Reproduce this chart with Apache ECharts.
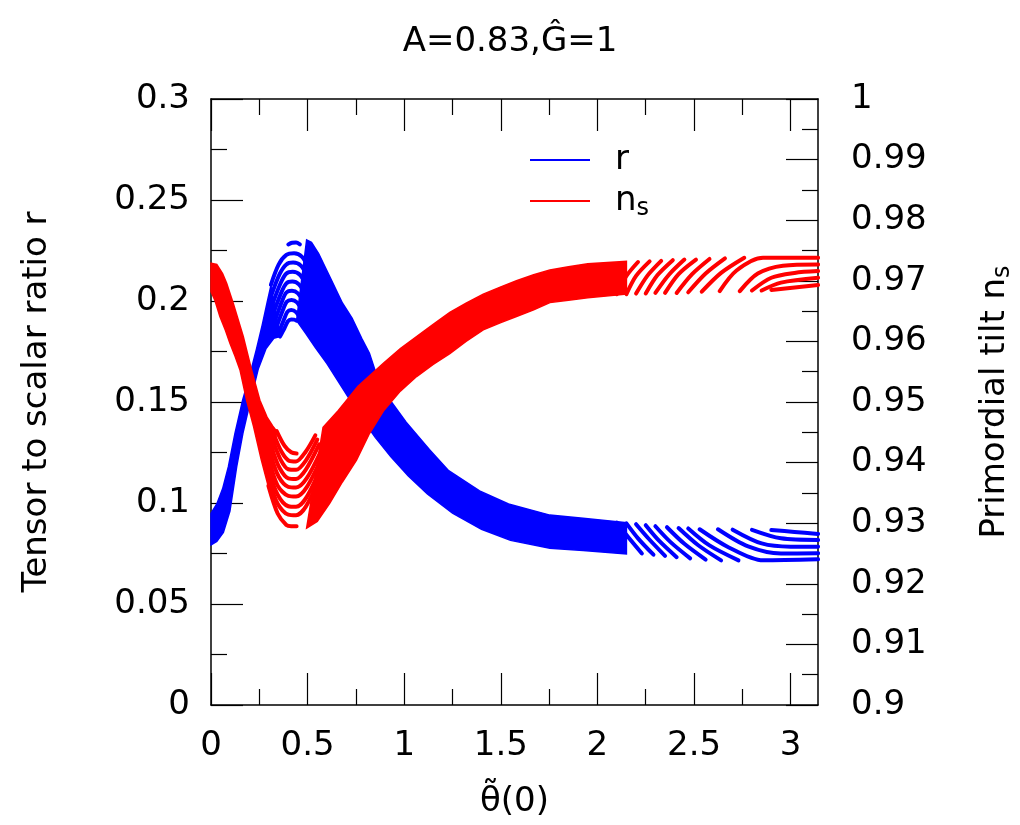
<!DOCTYPE html>
<html><head><meta charset="utf-8">
<script src="https://cdn.jsdelivr.net/npm/echarts@6/dist/echarts.min.js"></script>
<style>html,body{margin:0;padding:0;background:#fff}#c{width:1020px;height:825px}</style>
</head><body><div id="c"></div>
<script>
const PI = Math.PI;
const xMajor = [0, 0.5, 1, 1.5, 2, 2.5, 3];
const xMinor = [0.25, 0.75, 1.25, 1.75, 2.25, 2.75];
const rMajor = [0, 0.05, 0.1, 0.15, 0.2, 0.25, 0.3];
const rMinor = [0.025, 0.075, 0.125, 0.175, 0.225, 0.275];
const nMajor = [0.9, 0.91, 0.92, 0.93, 0.94, 0.95, 0.96, 0.97, 0.98, 0.99, 1.0];
const nMinor = [0.905, 0.915, 0.925, 0.935, 0.945, 0.955, 0.965, 0.975, 0.985, 0.995];

// ---- r (blue), left axis ----
const rRiseOuter = [[0,0.0949],[0.03,0.0995],[0.06,0.1070],[0.09,0.1180],[0.124,0.1345],[0.164,0.1510],[0.20,0.1630],[0.235,0.1760],[0.265,0.1880],[0.29,0.1990],[0.31,0.2075]];
const rRiseInner = [[0,0.0792],[0.03,0.0810],[0.064,0.0855],[0.098,0.0960],[0.133,0.1180],[0.165,0.1345],[0.205,0.1510],[0.245,0.1665],[0.285,0.1765],[0.325,0.1815],[0.357,0.1824]];
const rHumps = [
  [[0.40,0.2280],[0.42,0.2288],[0.44,0.2289],[0.46,0.2280]],
  [[0.31,0.2080],[0.35,0.2180],[0.39,0.2228],[0.43,0.2236],[0.47,0.2220],[0.505,0.2165]],
  [[0.315,0.2035],[0.355,0.2133],[0.39,0.2181],[0.425,0.2190],[0.465,0.2175],[0.50,0.2120]],
  [[0.32,0.1990],[0.36,0.2088],[0.39,0.2136],[0.423,0.2145],[0.46,0.2130],[0.495,0.2075]],
  [[0.325,0.1945],[0.363,0.2040],[0.39,0.2087],[0.421,0.2096],[0.455,0.2082],[0.49,0.2030]],
  [[0.33,0.1900],[0.366,0.1995],[0.39,0.2042],[0.419,0.2051],[0.45,0.2038],[0.483,0.1990]],
  [[0.335,0.1860],[0.37,0.1950],[0.392,0.1996],[0.417,0.2005],[0.445,0.1993],[0.475,0.1950]],
  [[0.345,0.1830],[0.375,0.1902],[0.395,0.1946],[0.415,0.1955],[0.44,0.1945],[0.465,0.1910]],
  [[0.357,0.1824],[0.38,0.1865],[0.398,0.1900],[0.415,0.1909],[0.43,0.1908],[0.443,0.1903]]
];
const rFallOuter = [[0.495,0.2302],[0.52,0.2290],[0.557,0.2235],[0.62,0.2110],[0.68,0.1990],[0.73,0.1915],[0.78,0.1815],[0.82,0.1741],[0.87,0.1595],[0.93,0.1505],[1.01,0.1400],[1.13,0.1265],[1.23,0.1160],[1.39,0.1060],[1.54,0.0995],[1.754,0.0940],[1.926,0.0924],[2.15,0.0903]];
const rFallInner = [[0.443,0.1903],[0.49,0.1840],[0.54,0.1770],[0.60,0.1690],[0.66,0.1600],[0.72,0.1510],[0.78,0.1420],[0.85,0.1325],[0.93,0.1230],[1.02,0.1135],[1.12,0.1045],[1.25,0.0950],[1.40,0.0870],[1.55,0.0815],[1.754,0.0776],[1.926,0.0765],[2.15,0.0748]];
const rTail = [
  [[2.10,0.0903],[2.16,0.0830],[2.23,0.0750]],
  [[2.15,0.0899],[2.21,0.0825],[2.29,0.0744]],
  [[2.20,0.0895],[2.27,0.0818],[2.35,0.0738]],
  [[2.25,0.0890],[2.32,0.0812],[2.41,0.0732]],
  [[2.30,0.0885],[2.38,0.0805],[2.48,0.0726]],
  [[2.36,0.0880],[2.45,0.0798],[2.56,0.0720]],
  [[2.42,0.0876],[2.52,0.0792],[2.64,0.0716]],
  [[2.47,0.0874],[2.58,0.0790],[2.73,0.0716]],
  [[2.529,0.0870],[2.68,0.0780],[2.857,0.0716],[3.142,0.0721]],
  [[2.624,0.0870],[2.78,0.0785],[2.95,0.0750],[3.142,0.0751]],
  [[2.70,0.0868],[2.85,0.0800],[3.00,0.0784],[3.142,0.0784]],
  [[2.80,0.0867],[2.95,0.0825],[3.142,0.0817]],
  [[2.90,0.0866],[3.02,0.0857],[3.142,0.0847]]
];

// ---- n_s (red), right axis ----
const nDescOuter = [[0,0.9682],[0.02,0.9668],[0.046,0.9641],[0.075,0.9618],[0.098,0.9597],[0.125,0.9575],[0.15,0.9553],[0.184,0.9503],[0.22,0.9460],[0.26,0.9405],[0.297,0.9360]];
const nDescInner = [[0,0.9729],[0.03,0.9727],[0.06,0.9712],[0.081,0.9696],[0.115,0.9663],[0.167,0.9608],[0.21,0.9553],[0.253,0.9503],[0.29,0.9475],[0.32,0.9460],[0.34,0.9452]];
const nTroughs = [
  [[0.34,0.9452],[0.38,0.9428],[0.415,0.9417],[0.443,0.9415]],
  [[0.325,0.9447],[0.365,0.9418],[0.405,0.9403],[0.44,0.9402],[0.49,0.9418],[0.54,0.9445]],
  [[0.32,0.9437],[0.36,0.9405],[0.40,0.9389],[0.44,0.9388],[0.49,0.9403],[0.55,0.9438]],
  [[0.315,0.9424],[0.355,0.9391],[0.40,0.9374],[0.44,0.9373],[0.49,0.9388],[0.56,0.9430]],
  [[0.31,0.9412],[0.35,0.9377],[0.40,0.9360],[0.44,0.9359],[0.495,0.9374],[0.57,0.9420]],
  [[0.305,0.9400],[0.345,0.9362],[0.40,0.9345],[0.44,0.9344],[0.495,0.9359],[0.575,0.9410]],
  [[0.30,0.9387],[0.345,0.9347],[0.40,0.9328],[0.44,0.9327],[0.495,0.9343],[0.58,0.9400]],
  [[0.298,0.9374],[0.345,0.9332],[0.40,0.9314],[0.44,0.9313],[0.49,0.9327],[0.57,0.9380]],
  [[0.297,0.9362],[0.345,0.9316],[0.39,0.9297],[0.415,0.9295],[0.443,0.9295]]
];
const nRiseOuter = [[0.495,0.9292],[0.55,0.9303],[0.615,0.9333],[0.68,0.9368],[0.753,0.9404],[0.82,0.9448],[0.892,0.9485],[0.98,0.9518],[1.064,0.9542],[1.15,0.9562],[1.236,0.9580],[1.32,0.9600],[1.409,0.9619],[1.5,0.9631],[1.581,0.9641],[1.67,0.9652],[1.754,0.9664],[1.85,0.9668],[1.95,0.9672],[2.15,0.9678]];
const nRiseInner = [[0.58,0.9458],[0.659,0.9486],[0.761,0.9526],[0.892,0.9564],[0.98,0.9588],[1.064,0.9608],[1.15,0.9628],[1.236,0.9648],[1.32,0.9663],[1.409,0.9678],[1.5,0.9690],[1.581,0.9700],[1.67,0.9710],[1.754,0.9718],[1.85,0.9723],[1.95,0.9728],[2.15,0.9732]];
const nTail = [
  [[2.10,0.9678],[2.15,0.9708],[2.21,0.9731]],
  [[2.15,0.9678],[2.20,0.9708],[2.27,0.9732]],
  [[2.20,0.9679],[2.26,0.9709],[2.33,0.9733]],
  [[2.25,0.9679],[2.31,0.9709],[2.39,0.9734]],
  [[2.30,0.9680],[2.37,0.9710],[2.45,0.9735]],
  [[2.35,0.9680],[2.42,0.9711],[2.51,0.9735]],
  [[2.41,0.9680],[2.49,0.9711],[2.58,0.9736]],
  [[2.47,0.9681],[2.56,0.9712],[2.66,0.9737]],
  [[2.54,0.9682],[2.64,0.9713],[2.76,0.9738]],
  [[2.633,0.9683],[2.72,0.9717],[2.857,0.9738],[3.142,0.9738]],
  [[2.737,0.9683],[2.83,0.9712],[2.96,0.9725],[3.142,0.9727]],
  [[2.80,0.9684],[2.90,0.9705],[3.02,0.9713],[3.142,0.9716]],
  [[2.85,0.9684],[2.95,0.9697],[3.142,0.9705]],
  [[2.90,0.9685],[3.142,0.9693]]
];

const BLUE = '#0000ff', RED = '#ff0000', FONT = 'DejaVu Sans', FS = 34;

function band(outer, inner, yIdx, color, z) {
  const pts = outer.concat(inner.slice().reverse());
  return {
    type: 'custom', coordinateSystem: 'cartesian2d', xAxisIndex: 0, yAxisIndex: yIdx, z: z,
    silent: true, animation: false, data: [outer[0]],
    renderItem: function (params, api) {
      return { type: 'polygon', shape: { points: pts.map(function (p) { return api.coord(p); }) },
               style: { fill: color, stroke: color, lineWidth: 1.5 } };
    }
  };
}
function arc(pts, yIdx, color, z, name) {
  const s = {
    type: 'line', xAxisIndex: 0, yAxisIndex: yIdx, z: z, data: pts,
    symbol: 'none', showSymbol: false, smooth: 0.3, silent: true, animation: false, clip: true,
    lineStyle: { color: color, width: 4, cap: 'round', join: 'round' }, itemStyle: { color: color }
  };
  if (name) s.name = name;
  return s;
}

const series = [];
series.push(band(rRiseOuter, rRiseInner, 0, BLUE, 2));
series.push(band(rFallOuter, rFallInner, 0, BLUE, 2));
rHumps.forEach(function (h, i) { series.push(arc(h, 0, BLUE, 2, i === 0 ? 'r' : null)); });
rTail.forEach(function (h) { series.push(arc(h, 0, BLUE, 2)); });
series.push(band(nDescOuter, nDescInner, 1, RED, 3));
series.push(band(nRiseOuter, nRiseInner, 1, RED, 3));
nTroughs.forEach(function (h, i) { series.push(arc(h, 1, RED, 3, i === 0 ? 'ns' : null)); });
nTail.forEach(function (h) { series.push(arc(h, 1, RED, 3)); });

const txt = { fontFamily: FONT, fontSize: FS, color: '#000' };
const rich = {
  a: { fontFamily: FONT, fontSize: FS, color: '#000', lineHeight: 40 },
  b: { fontFamily: FONT, fontSize: 24, color: '#000', lineHeight: 18, verticalAlign: 'bottom' }
};
const tickStyle = { color: '#000', width: 1.2 };
const fmt = function (v) { return String(+v.toFixed(3)); };

function xAx(pos, ticks, len, line, labels) {
  return {
    type: 'value', position: pos, min: 0, max: PI,
    axisLine: { show: line, onZero: false, lineStyle: { color: '#000', width: 1.5 } },
    axisTick: { show: true, inside: true, length: len, customValues: ticks, lineStyle: tickStyle },
    axisLabel: labels ? Object.assign({ show: true, customValues: ticks, margin: 24, formatter: fmt }, txt) : { show: false },
    splitLine: { show: false }, minorTick: { show: false },
    name: labels ? 'θ̃(0)' : '', nameLocation: 'middle', nameGap: 80, nameTextStyle: txt
  };
}
function yAx(pos, min, max, ticks, len, line, labels, name, margin) {
  const a = {
    type: 'value', position: pos, min: min, max: max,
    axisLine: { show: line, onZero: false, lineStyle: { color: '#000', width: 1.5 } },
    axisTick: { show: true, inside: true, length: len, customValues: ticks, lineStyle: tickStyle },
    axisLabel: labels ? Object.assign({ show: true, customValues: ticks, margin: margin, formatter: fmt }, txt) : { show: false },
    splitLine: { show: false }, minorTick: { show: false }
  };
  if (name) {
    a.name = name; a.nameLocation = 'middle'; a.nameRotate = 90; a.nameGap = 157;
    a.nameTextStyle = Object.assign({ rich: rich }, txt);
  }
  return a;
}

const option = {
  animation: false,
  backgroundColor: '#fff',
  title: { text: 'A=0.83,Ĝ=1', left: 'center', top: 20, textStyle: { fontFamily: FONT, fontSize: FS, fontWeight: 'normal', color: '#000' } },
  legend: {
    orient: 'vertical', left: 530, top: 143, padding: 0, itemGap: 7, itemWidth: 60, itemHeight: 2, icon: 'rect',
    data: ['r', 'ns'],
    formatter: function (n) { return n === 'ns' ? '{a|n}{b|s}' : '{a|r}'; },
    textStyle: { fontFamily: FONT, fontSize: FS, color: '#000', padding: [0, 0, 0, 20], rich: rich }
  },
  grid: { left: 211, right: 202, top: 99, bottom: 120, containLabel: false, outerBoundsMode: 'none' },
  xAxis: [
    xAx('bottom', xMajor, 32, true, true),
    xAx('bottom', xMinor, 16, false, false),
    xAx('top', xMajor, 32, true, false),
    xAx('top', xMinor, 16, false, false)
  ],
  yAxis: [
    yAx('left', 0, 0.3, rMajor, 32, true, true, 'Tensor to scalar ratio r', 21),
    yAx('right', 0.9, 1.0, nMajor, 32, true, true, '{a|Primordial tilt n}{b|s}', 33),
    yAx('left', 0, 0.3, rMinor, 16, false, false, null, 0),
    yAx('right', 0.9, 1.0, nMinor, 16, false, false, null, 0)
  ],
  series: series
};
const chart = echarts.init(document.getElementById('c'), null, { renderer: 'canvas' });
chart.setOption(option);
</script></body></html>
